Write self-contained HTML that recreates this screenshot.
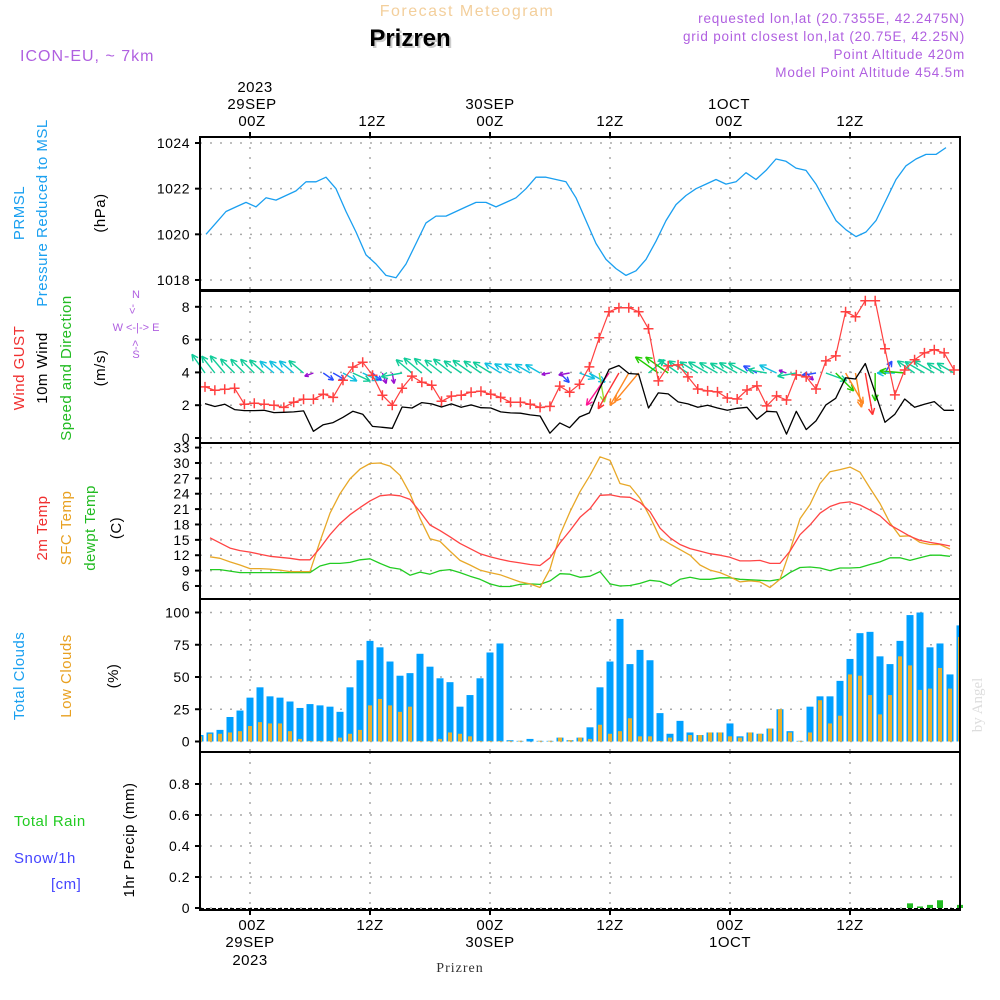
<!DOCTYPE html>
<html><head><meta charset="utf-8"><style>
html,body{margin:0;padding:0;background:#fff;}
svg{display:block;font-family:"Liberation Sans",sans-serif;}
</style></head><body>
<svg id="chart" width="1000" height="1000" viewBox="0 0 1000 1000" xmlns="http://www.w3.org/2000/svg">
<text x="467" y="16" text-anchor="middle" font-size="16" fill="#f3cf9c" letter-spacing="1.5">Forecast Meteogram</text>
<text x="412" y="48" text-anchor="middle" font-size="24" font-weight="bold" fill="#ccc">Prizren</text>
<text x="410" y="46" text-anchor="middle" font-size="24" font-weight="bold" fill="#000">Prizren</text>
<text x="20" y="61" font-size="16" fill="#b060e0" letter-spacing="1">ICON-EU, ~ 7km</text>
<g font-size="13.5" fill="#b060e0" text-anchor="end" letter-spacing="0.8">
<text x="965" y="23">requested lon,lat (20.7355E, 42.2475N)</text>
<text x="965" y="41">grid point closest lon,lat (20.75E, 42.25N)</text>
<text x="965" y="59">Point Altitude 420m</text>
<text x="965" y="77">Model Point Altitude 454.5m</text>
</g>
<g font-size="15" fill="#000" text-anchor="middle" letter-spacing="0.5">
<text x="255" y="92">2023</text>
<text x="252" y="109">29SEP</text>
<text x="252" y="126">00Z</text>
<text x="372" y="126">12Z</text>
<text x="490" y="109">30SEP</text>
<text x="490" y="126">00Z</text>
<text x="610" y="126">12Z</text>
<text x="729" y="109">1OCT</text>
<text x="729" y="126">00Z</text>
<text x="850" y="126">12Z</text>
</g>
<g font-size="15" fill="#000" text-anchor="middle" letter-spacing="0.5">
<text x="252" y="930">00Z</text>
<text x="250" y="947">29SEP</text>
<text x="250" y="965">2023</text>
<text x="370" y="930">12Z</text>
<text x="490" y="930">00Z</text>
<text x="490" y="947">30SEP</text>
<text x="610" y="930">12Z</text>
<text x="730" y="930">00Z</text>
<text x="730" y="947">1OCT</text>
<text x="850" y="930">12Z</text>
</g>
<text x="460" y="972" text-anchor="middle" font-size="14" font-family="Liberation Serif,serif" fill="#333" letter-spacing="1">Prizren</text>
<g font-size="15" letter-spacing="0.5">
<text transform="translate(24,213) rotate(-90)" text-anchor="middle" fill="#1aa0f0">PRMSL</text>
<text transform="translate(47,213) rotate(-90)" text-anchor="middle" fill="#1aa0f0">Pressure Reduced to MSL</text>
<text transform="translate(105,213) rotate(-90)" text-anchor="middle" fill="#000">(hPa)</text>
<text transform="translate(24,368) rotate(-90)" text-anchor="middle" fill="#f03030">Wind GUST</text>
<text transform="translate(47,368) rotate(-90)" text-anchor="middle" fill="#000">10m Wind</text>
<text transform="translate(71,368) rotate(-90)" text-anchor="middle" fill="#22bb22">Speed and Direction</text>
<text transform="translate(105,368) rotate(-90)" text-anchor="middle" fill="#000">(m/s)</text>
<text transform="translate(47,528) rotate(-90)" text-anchor="middle" fill="#f03030">2m Temp</text>
<text transform="translate(71,528) rotate(-90)" text-anchor="middle" fill="#e8a020">SFC Temp</text>
<text transform="translate(95,528) rotate(-90)" text-anchor="middle" fill="#22bb22">dewpt Temp</text>
<text transform="translate(121,528) rotate(-90)" text-anchor="middle" fill="#000">(C)</text>
<text transform="translate(24,676) rotate(-90)" text-anchor="middle" fill="#1aa0f0">Total Clouds</text>
<text transform="translate(71,676) rotate(-90)" text-anchor="middle" fill="#e8a020">Low Clouds</text>
<text transform="translate(118,676) rotate(-90)" text-anchor="middle" fill="#000">(%)</text>
<text x="14" y="826" fill="#22cc22">Total  Rain</text>
<text x="14" y="863" fill="#4444ff">Snow/1h</text>
<text x="51" y="889" fill="#4444ff">[cm]</text>
<text transform="translate(134,840) rotate(-90)" text-anchor="middle" fill="#000">1hr Precip (mm)</text>
</g>
<g font-size="11" fill="#b060e0" text-anchor="middle">
<text x="136" y="298">N</text>
<text transform="translate(136,309) rotate(-90)">&lt;-</text>
<text x="136" y="331">W &lt;-|-&gt; E</text>
<text transform="translate(139,345) rotate(-90)">-&gt;</text>
<text x="136" y="358">S</text>
</g>
<text transform="translate(982,705) rotate(-90)" text-anchor="middle" font-size="15" font-family="Liberation Serif,serif" fill="#ddd">by Angel</text>
<g id="layer"></g>
</svg>
<script>
const pressure = [1020.0,1020.5,1021.0,1021.2,1021.4,1021.2,1021.6,1021.5,1021.7,1021.9,1022.3,1022.3,1022.5,1022.0,1021.0,1020.1,1019.1,1018.7,1018.2,1018.1,1018.7,1019.6,1020.5,1020.8,1020.8,1021.0,1021.2,1021.4,1021.4,1021.2,1021.4,1021.6,1022.0,1022.5,1022.5,1022.4,1022.3,1021.6,1020.6,1019.6,1018.9,1018.5,1018.2,1018.4,1018.9,1019.7,1020.6,1021.3,1021.7,1022.0,1022.2,1022.4,1022.2,1022.3,1022.7,1022.4,1022.8,1023.3,1023.2,1022.9,1022.8,1022.2,1021.4,1020.6,1020.2,1019.9,1020.1,1020.6,1021.5,1022.4,1023.0,1023.3,1023.5,1023.5,1023.8];
const gust = [3.12,2.91,2.97,3.03,2.06,2.12,2.06,2.0,1.87,2.18,2.36,2.36,2.67,2.48,3.52,4.32,4.62,3.83,2.61,2.0,3.03,3.77,3.4,3.22,2.24,2.55,2.61,2.79,2.85,2.67,2.48,2.18,2.18,2.06,1.87,1.93,3.16,2.79,3.28,4.34,6.11,7.70,7.94,7.94,7.70,6.66,3.48,4.40,4.46,3.73,2.99,2.87,2.81,2.44,2.38,2.93,3.18,1.96,2.57,2.32,3.85,3.73,2.99,4.70,5.01,7.70,7.39,8.37,8.37,5.44,2.63,4.15,4.77,5.19,5.38,5.19,4.15];
const wind = [2.10,1.92,2.06,1.73,1.67,1.67,1.69,1.55,1.57,1.59,1.65,0.41,0.81,0.94,1.26,1.63,1.45,0.71,0.65,0.59,1.89,1.83,2.16,2.08,1.89,2.08,1.87,2.02,1.85,1.83,1.59,1.53,1.51,1.41,1.34,0.29,0.92,0.63,1.28,1.53,2.95,4.18,4.42,3.93,3.89,1.83,2.75,2.69,2.20,2.08,1.87,2.0,1.83,1.69,1.81,1.87,1.14,1.63,1.59,0.24,1.63,0.51,1.04,2.02,2.42,3.67,3.6,4.54,2.75,0.96,1.45,2.38,1.87,2.06,2.22,1.69,1.69];
const windArrowAngle = [125,128,130,135,135,135,138,140,140,140,140,200,-35,-30,-30,-25,-25,-40,-70,-80,190,140,140,140,142,142,145,145,145,148,148,150,150,150,150,190,-45,190,-20,-30,-80,235,240,240,230,40,145,145,145,148,148,150,150,150,150,152,152,170,155,160,190,-45,190,-20,-45,-60,-80,-80,-90,60,180,175,145,150,150,150,150];
const t2m = [15.4,14.4,13.4,12.9,12.6,12.2,11.8,11.6,11.4,11.1,11.1,13.4,16.0,18.2,19.9,21.3,22.6,23.6,23.8,23.6,22.9,20.5,17.9,16.8,15.6,14.3,13.3,12.3,11.7,11.2,10.8,10.5,10.2,10.0,11.5,14.4,16.8,19.4,21.1,23.7,23.8,23.4,23.3,22.3,20.5,17.3,15.4,14.1,13.3,12.8,12.3,12.0,11.6,10.9,10.9,11.0,10.4,10.4,12.8,16.0,17.9,20.2,21.5,22.2,22.4,21.8,20.8,19.7,17.9,16.8,15.7,14.9,14.5,14.2,13.8];
const tsfc = [11.7,11.4,10.7,10.1,9.4,9.4,9.3,9.1,8.8,8.8,8.8,14.7,20.2,24.0,26.9,28.8,29.9,30.0,29.4,27.6,24.0,19.2,15.2,14.7,12.8,11.0,10.1,9.1,8.6,8.2,7.5,6.8,6.4,5.7,9.3,16.0,20.5,24.4,27.6,31.2,30.5,26.0,25.5,23.1,19.5,15.4,14.2,13.1,12.0,10.1,9.1,8.6,7.8,6.8,7.0,6.8,5.7,7.3,12.9,19.1,21.9,26.0,28.3,28.7,29.2,28.2,25.1,22.1,18.3,15.7,15.8,14.5,14.1,14.1,13.2];
const dewpt = [9.2,9.2,8.9,8.6,8.6,8.6,8.6,8.6,8.6,8.6,8.6,9.9,10.4,10.4,10.6,11.1,11.3,10.4,9.6,9.3,8.1,8.7,8.3,9.0,9.2,8.6,7.9,7.3,6.4,5.9,5.9,6.3,6.4,6.3,7.0,8.4,8.3,7.7,7.9,8.8,6.4,6.0,6.1,6.5,7.1,6.9,6.1,7.3,7.7,7.3,7.3,7.6,7.6,7.3,7.2,7.1,7.0,7.3,8.6,9.6,9.7,9.5,9.0,9.5,9.5,9.6,10.2,10.7,11.5,11.5,11.0,11.5,12.0,12.0,11.8];
const totalClouds = [5,7,9,19,24,34,42,35,34,31,26,29,28,27,23,42,63,78,73,62,51,53,68,58,49,46,27,36,49,69,76,1,0.5,2,0.5,0.5,3,1,3,11,42,62,95,60,71,63,22,6,16,7,5,7,7,14,4,7,6,10,25,8,0.5,27,35,35,47,64,84,85,66,60,78,98,100,73,76,52,90];
const lowClouds = [4,6,6,7,8,12,15,14,14,8,2,0.5,0.5,0.5,3,6,9,28,33,28,23,27,0.5,0.5,2,7,6,4,0.5,0.5,0.5,0.5,0.5,0,0.5,0.5,3,1,3,2,13,6,8,18,4,4,0.5,3,0.5,5,5,7,7,4,3,7,6,10,25,7,0.5,7,32,14,20,52,51,36,21,36,66,59,40,41,57,41,81];
const rain = [0,0,0,0,0,0,0,0,0,0,0,0,0,0,0,0,0,0,0,0,0,0,0,0,0,0,0,0,0,0,0,0,0,0,0,0,0,0,0,0,0,0,0,0,0,0,0,0,0,0,0,0,0,0,0,0,0,0,0,0,0,0,0,0,0,0,0,0,0,0,0,0.03,0.01,0.02,0.05,0,0.02];
const pTicks = [1018,1020,1022,1024];
const wTicks = [0,2,4,6,8];
const tTicks = [6,9,12,15,18,21,24,27,30,33];
const cTicks = [0,25,50,75,100];
const rTicks = [0,0.2,0.4,0.6,0.8];
const timeGrid = [0,12,24,36,48,60];

const NS = 'http://www.w3.org/2000/svg';
const layer = document.getElementById('layer');
function mk(tag, attrs, parent){const e=document.createElementNS(NS,tag);for(const k in attrs)e.setAttribute(k,attrs[k]);(parent||layer).appendChild(e);return e;}
const X0=200, X1=960;
const xh = h => 250 + 10*h;
const xw = i => 205 + i*749/76;
const yP = v => 143 + (1024-v)*22.83;
const yW = v => 438 - v*16.4;
const yT = v => 447.6 + (33-v)*5.125;
const yC = v => 741.5 - v*1.29;
const yR = v => 908 - v*155;
const panels = [
 {name:'pressure',top:137,bot:290,y:yP,ticks:pTicks,fmt:v=>v},
 {name:'wind',top:291,bot:443,y:yW,ticks:wTicks,fmt:v=>v},
 {name:'temperature',top:443,bot:599,y:yT,ticks:tTicks,fmt:v=>v},
 {name:'clouds',top:599,bot:752,y:yC,ticks:cTicks,fmt:v=>v},
 {name:'precip',top:752,bot:910,y:yR,ticks:rTicks,fmt:v=>v===0?'0':v.toFixed(1)}
];
panels.forEach(p=>{
  const g=mk('g',{});
  
  
  p.g=g;
  p.ticks.forEach(t=>{
    const y=p.y(t);
    const gl=mk('line',{x1:X0,x2:X1,y1:y,y2:y,stroke:'#aaa','stroke-width':1.5,'stroke-dasharray':'2,8'},g);
    
    
    const tk=mk('line',{x1:X0-5,x2:X0,y1:y,y2:y,stroke:'#000','stroke-width':2},g);
    
    
    const tl=mk('text',{x:X0-10,y:y+5,'text-anchor':'end','font-size':14,fill:'#000','letter-spacing':0.5},g);
    tl.textContent=p.fmt(t);
    
    
  });
  timeGrid.forEach(h=>{
    const vl=mk('line',{x1:xh(h),x2:xh(h),y1:p.top,y2:p.bot,stroke:'#aaa','stroke-width':1.5,'stroke-dasharray':'2,8'},g);
    
    
  });
});
function line(vals,xf,yf,color,w,parent){
  const pts=vals.map((v,i)=>xf(i).toFixed(1)+','+yf(v).toFixed(1)).join(' ');
  return mk('polyline',{points:pts,fill:'none',stroke:color,'stroke-width':w,'stroke-linejoin':'round'},parent);
}
// pressure
const pl=line(pressure,i=>xh(i-4.4),yP,'#1a9ff0',1.3,panels[0].g);


// wind
const wg=panels[1].g;
function windColor(s){if(s<0.7)return '#9a10d0';if(s<1.2)return '#2a4cff';if(s<1.6)return '#10c0e0';if(s<2.3)return '#10cc99';if(s<2.8)return '#22cc00';if(s<3.5)return '#99dd33';if(s<4.0)return '#ff8822';if(s<4.3)return '#ff1493';return '#ff3333';}
wind.forEach((s,i)=>{
  const a=windArrowAngle[i]*Math.PI/180, L=6+8*s;
  const x0=xw(i), y0=373, x1=x0+L*Math.cos(a), y1=y0-L*Math.sin(a);
  const c=windColor(s);
  const ag=mk('g',{stroke:c,fill:'none','stroke-width':1.4},wg);
  
  
  mk('line',{x1:x0,y1:y0,x2:x1,y2:y1},ag);
  const hl=Math.min(7,L*0.45);
  [0.45,-0.45].forEach(d=>{const b=a+Math.PI+d;mk('line',{x1:x1,y1:y1,x2:x1+hl*Math.cos(b),y2:y1-hl*Math.sin(b)},ag);});
});
const gl=line(gust,xw,yW,'#ff4040',1.2,wg);


gust.forEach((v,i)=>{
  const x=xw(i),y=yW(v);
  const m=mk('path',{d:`M${x-5},${y}H${x+5}M${x},${y-5}V${y+5}`,stroke:'#ff4040','stroke-width':1.5},wg);
  
  
});
const wl=line(wind,xw,yW,'#000',1.3,wg);


// temperature
const tg=panels[2].g;
const dl=line(dewpt,i=>xh(i-4),yT,'#22cc22',1.3,tg);


const sl=line(tsfc,i=>xh(i-4),yT,'#e8a828',1.3,tg);


const tl2=line(t2m,i=>xh(i-4),yT,'#ff4444',1.3,tg);


// clouds
const cg=panels[3].g;
totalClouds.forEach((v,i)=>{
  const x=xh(i-5);
  const x0=Math.max(X0,x-3.5), x1=Math.min(X1,x+3.5);
  const b=mk('rect',{x:x0,y:yC(v),width:Math.max(0,x1-x0),height:yC(0)-yC(v),fill:'#00a0ff'},cg);
  
  
});
lowClouds.forEach((v,i)=>{
  const x=xh(i-5);
  const x0=Math.max(X0,x-2), x1=Math.min(X1,x+2);
  const b=mk('rect',{x:x0,y:yC(v),width:Math.max(0,x1-x0),height:yC(0)-yC(v),fill:'#e8b030'},cg);
  
  
});
// precip
const rg=panels[4].g;
rain.forEach((v,i)=>{
  if(v<=0)return;
  const x=xh(i-5);
  const b=mk('rect',{x:x-3,y:yR(v),width:6,height:yR(0)-yR(v),fill:'#22bb22'},rg);
  
  
});
const zl=mk('line',{x1:X0,x2:X1,y1:yR(0)+0.5,y2:yR(0)+0.5,stroke:'#000','stroke-width':1,'stroke-dasharray':'4,2'},rg);


// frames
panels.forEach(p=>{
  const r=mk('rect',{x:X0,y:p.top,width:X1-X0,height:p.bot-p.top,fill:'none',stroke:'#000','stroke-width':2});
  
  
});
timeGrid.forEach(h=>{
  const t1=mk('line',{x1:xh(h),x2:xh(h),y1:132,y2:137,stroke:'#000','stroke-width':2});
  
  
  const t2=mk('line',{x1:xh(h),x2:xh(h),y1:910,y2:915,stroke:'#000','stroke-width':2});
  
  
});
</script>
</body></html>
